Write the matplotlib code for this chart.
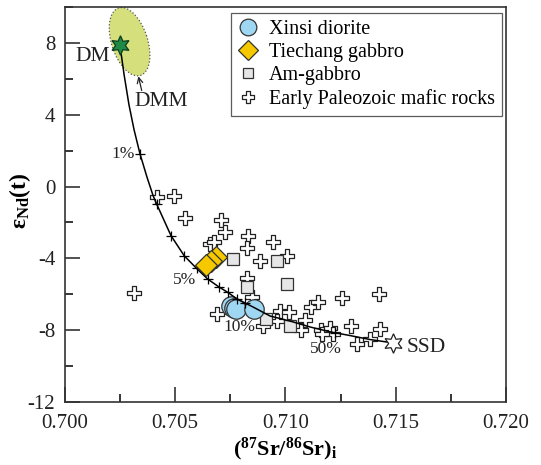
import matplotlib.pyplot as plt
from matplotlib.path import Path
from matplotlib.patches import Ellipse
from matplotlib.lines import Line2D
from matplotlib.transforms import ScaledTranslation
from matplotlib.ticker import MultipleLocator, FormatStrFormatter

plt.rcParams['font.family'] = 'Liberation Serif'
plt.rcParams['axes.unicode_minus'] = False
plt.rcParams['mathtext.fontset'] = 'custom'
plt.rcParams['mathtext.rm'] = 'Liberation Serif'
plt.rcParams['mathtext.it'] = 'Liberation Serif:italic'
plt.rcParams['mathtext.bf'] = 'Liberation Serif:bold'

# Xinsi diorite
xinsi_sr = [0.70753, 0.70766, 0.70775, 0.70857]
xinsi_nd = [-6.65, -6.76, -6.82, -6.82]

# Tiechang gabbro
tiechang_sr = [0.70685, 0.70662, 0.70639]
tiechang_nd = [-3.93, -4.15, -4.37]

# Am-gabbro
amgab_sr = [0.70762, 0.70961, 0.71007, 0.70825, 0.70912, 0.71020]
amgab_nd = [-4.04, -4.15, -5.43, -5.59, -7.37, -7.76]

# Early Paleozoic mafic rocks
epz_sr = [0.70417, 0.70494, 0.70544, 0.70707, 0.70726, 0.70658, 0.70676,
          0.70313, 0.70689, 0.70830, 0.70943, 0.70825, 0.70884, 0.71007,
          0.70825, 0.70848, 0.70975, 0.71016, 0.70961, 0.70898, 0.71116,
          0.71147, 0.71088, 0.71070, 0.71161, 0.71202, 0.71215, 0.71165,
          0.71256, 0.71424, 0.71297, 0.71429, 0.71324, 0.71383]
epz_nd = [-0.59, -0.54, -1.76, -1.87, -2.54, -3.21, -3.09,
          -5.93, -7.09, -2.76, -3.09, -3.43, -4.15, -3.87,
          -5.09, -6.15, -6.93, -6.98, -7.48, -7.76, -6.71,
          -6.43, -7.43, -7.98, -7.98, -7.87, -8.21, -8.21,
          -6.21, -5.98, -7.76, -7.93, -8.76, -8.48]

# DM - SSD mixing curve
mix_sr = [0.70249, 0.70268, 0.70290, 0.70313, 0.70340, 0.70372, 0.70400,
          0.70416, 0.70481, 0.70541, 0.70597, 0.70647, 0.70698, 0.70739,
          0.70780, 0.70816, 0.70853, 0.70930, 0.71034, 0.71111, 0.71202,
          0.71293, 0.71383, 0.71488]
mix_nd = [7.90, 6.24, 4.57, 3.18, 1.83, 0.52, -0.52,
          -0.98, -2.74, -3.86, -4.56, -5.15, -5.59, -5.90,
          -6.26, -6.48, -6.71, -7.21, -7.54, -7.82, -8.09,
          -8.30, -8.52, -8.71]

# mixing proportion marks on the curve
tick_sr = [0.70340, 0.70416, 0.70481, 0.70541, 0.70597, 0.70647, 0.70698,
           0.70739, 0.70780, 0.70816, 0.71224]
tick_nd = [1.83, -0.98, -2.74, -3.86, -4.56, -5.15, -5.59,
           -5.90, -6.26, -6.48, -8.13]

dm = (0.70249, 7.90)
ssd = (0.71488, -8.71)
dmm_center = (0.70293, 8.07)

# thick open cross marker
w, e = 0.17, 0.5
cross_verts = [(-w, e), (w, e), (w, w), (e, w), (e, -w), (w, -w), (w, -e),
               (-w, -e), (-w, -w), (-e, -w), (-e, w), (-w, w), (-w, e)]
cross = Path(cross_verts, [Path.MOVETO] + [Path.LINETO] * 11 + [Path.CLOSEPOLY])
star6 = (6, 1, 0)

fig = plt.figure(figsize=(5.41, 4.65), dpi=100)
ax = fig.add_axes([0.1201, 0.1355, 0.8152, 0.8494])

# DMM field
dmm = Ellipse((0, 0), 0.71, 0.36, angle=108, facecolor='#d5e07c',
              edgecolor='#555555', linestyle=':', linewidth=0.9,
              transform=fig.dpi_scale_trans + ScaledTranslation(*dmm_center, ax.transData),
              zorder=1)
ax.add_patch(dmm)

ax.plot(epz_sr, epz_nd, linestyle='none', marker=cross, markersize=9.5,
        markerfacecolor='white', markeredgecolor='#222222', markeredgewidth=0.9, zorder=2)
ax.plot(amgab_sr, amgab_nd, linestyle='none', marker='s', markersize=8,
        markerfacecolor='#e6e6e6', markeredgecolor='#333333', markeredgewidth=0.9, zorder=3)
ax.plot(xinsi_sr, xinsi_nd, linestyle='none', marker='o', markersize=14,
        markerfacecolor='#9fd6f2', markeredgecolor='#333333', markeredgewidth=0.9, zorder=3)

ax.plot(mix_sr, mix_nd, color='black', linewidth=1.1, zorder=4)
ax.plot(tick_sr, tick_nd, linestyle='none', marker='+', markersize=7,
        markeredgecolor='black', markeredgewidth=0.9, zorder=4)

ax.plot(tiechang_sr, tiechang_nd, linestyle='none', marker='D', markersize=11,
        markerfacecolor='#f6c800', markeredgecolor='#333333', markeredgewidth=0.9, zorder=5)

ax.plot(*dm, linestyle='none', marker=star6, markersize=14,
        markerfacecolor='#1e8a45', markeredgecolor='#0d3d1d', markeredgewidth=0.9, zorder=6)
ax.plot(*ssd, linestyle='none', marker=star6, markersize=14,
        markerfacecolor='white', markeredgecolor='#222222', markeredgewidth=0.9, zorder=6)

lab = dict(fontsize=15.5, color='#222222')
pct = dict(fontsize=12.5, color='#222222')
ax.text(0.70125, 7.26, 'DM', ha='center', va='center', **lab)
ax.text(0.70435, 4.76, 'DMM', ha='center', va='center', **lab)
ax.annotate('', xy=(0.70333, 6.14), xytext=(0.70348, 5.35),
            arrowprops=dict(arrowstyle='->', color='#222222', lw=0.9,
                            shrinkA=0, shrinkB=0))
ax.text(0.70317, 1.79, '1%', ha='right', va='center', **pct)
ax.text(0.70597, -5.19, '5%', ha='right', va='center', **pct)
ax.text(0.70789, -7.80, '10%', ha='center', va='center', **pct)
ax.text(0.71185, -9.04, '50%', ha='center', va='center', **pct)
ax.text(0.71550, -8.95, 'SSD', ha='left', va='center', **lab)

ax.set_xlim(0.700, 0.720)
ax.set_ylim(-12, 10)
ax.xaxis.set_major_locator(MultipleLocator(0.005))
ax.xaxis.set_minor_locator(MultipleLocator(0.0025))
ax.yaxis.set_minor_locator(MultipleLocator(2))
ax.set_yticks([-12, -8, -4, 0, 4, 8])
ax.xaxis.set_major_formatter(FormatStrFormatter('%.3f'))
ax.tick_params(which='major', direction='in', length=11, width=1.1,
               labelsize=15, colors='#222222')
ax.tick_params(axis='x', which='major', pad=9)
ax.tick_params(axis='y', which='major', pad=7)
ax.tick_params(which='minor', direction='in', length=5.5, width=1.1)
for sp in ax.spines.values():
    sp.set_linewidth(1.2)
    sp.set_color('#333333')

ax.set_xlabel(r'$\mathbf{(^{87}Sr/^{86}Sr)_i}$', fontsize=16)
ax.set_ylabel(r'$\mathbf{\varepsilon_{Nd}(t)}$', fontsize=17)
ax.xaxis.set_label_coords(0.5, -0.086)
ax.yaxis.set_label_coords(-0.072, 0.51)

handles = [
    Line2D([], [], linestyle='none', marker='o', markersize=12,
           markerfacecolor='#9fd6f2', markeredgecolor='#333333', markeredgewidth=0.9),
    Line2D([], [], linestyle='none', marker='D', markersize=10,
           markerfacecolor='#f6c800', markeredgecolor='#333333', markeredgewidth=0.9),
    Line2D([], [], linestyle='none', marker='s', markersize=6.5,
           markerfacecolor='#e6e6e6', markeredgecolor='#333333', markeredgewidth=0.9),
    Line2D([], [], linestyle='none', marker=cross, markersize=8,
           markerfacecolor='white', markeredgecolor='#222222', markeredgewidth=0.9),
]
labels = ['Xinsi diorite', 'Tiechang gabbro', 'Am-gabbro', 'Early Paleozoic mafic rocks']
leg = ax.legend(handles, labels, loc='upper right', bbox_to_anchor=(0.991, 0.985),
                borderaxespad=0, fontsize=14.5, frameon=True, fancybox=False,
                handlelength=1.0, handletextpad=0.55, labelspacing=0.2,
                borderpad=0.35)
leg.get_frame().set_edgecolor('#333333')
leg.get_frame().set_linewidth(0.9)
leg.set_zorder(10)

fig.savefig('out.png', dpi=100)
